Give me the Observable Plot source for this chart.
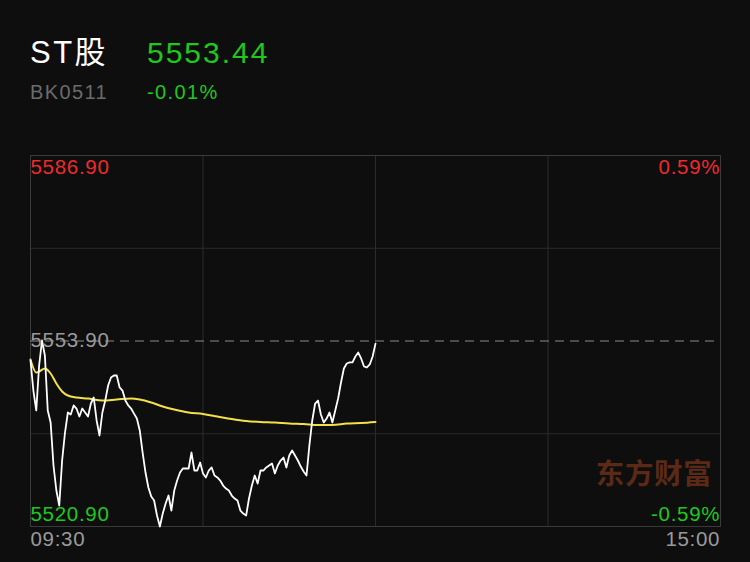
<!DOCTYPE html>
<html>
<head>
<meta charset="utf-8">
<script src="https://cdn.jsdelivr.net/npm/d3@7"></script>
<script src="https://cdn.jsdelivr.net/npm/@observablehq/plot@0.6"></script>
<style>
  html, body { margin: 0; padding: 0; background: #0e0e0e; width: 750px; height: 562px; overflow: hidden; }
  #header { display: block; }
  #chart svg { display: block; }
</style>
</head>
<body>
<svg id="header" width="750" height="130" xmlns="http://www.w3.org/2000/svg" style="font-family:'Liberation Sans','Noto Sans CJK SC',sans-serif">
  <text id="t-name" x="30" y="63" font-size="31" fill="#ffffff" letter-spacing="2.5"></text>
  <text id="t-price" x="147" y="63" font-size="30" fill="#1ec81e" letter-spacing="2"></text>
  <text id="t-code" x="30" y="99" font-size="20" fill="#6b6b6b" letter-spacing="1.4"></text>
  <text id="t-chg" x="147" y="99" font-size="20" fill="#1ec81e" letter-spacing="1.4"></text>
</svg>
<div id="chart"></div>
<script>
// ---- header values ----
const stockName = "ST股";
const lastPrice = "5553.44";
const boardCode = "BK0511";
const changePct = "-0.01%";

// ---- axis / tick labels ----
const priceLabels = [5586.90, 5553.90, 5520.90];
const pctLabels = ["0.59%", "-0.59%"];
const timeLabels = ["09:30", "15:00"];
const timeLabelMinutes = [0, 240];
const gridMinutes = [60, 120, 180];
const gridPrices = [5570.40, 5537.40];
const prevClose = 5553.90;
const watermark = "东方财富";

// ---- price series (minute index 0..120 from 09:30) ----
const prices = [
  5550.43, 5545.09, 5541.54, 5549.54, 5553.99, 5551.32, 5541.54, 5539.40, 5531.75, 5527.30,
  5524.63, 5532.64, 5537.62, 5541.18, 5540.82, 5542.43, 5541.89, 5540.47, 5541.89, 5541.18,
  5540.47, 5542.78, 5543.85, 5539.76, 5537.09, 5541.18, 5543.31, 5545.98, 5547.41, 5547.76,
  5547.76, 5545.63, 5545.09, 5543.31, 5542.43, 5541.89, 5540.99, 5540.11, 5537.98, 5534.06,
  5530.50, 5527.84, 5526.24, 5525.52, 5522.85, 5520.90, 5523.21, 5524.99, 5526.41, 5523.74,
  5527.30, 5529.08, 5530.50, 5531.22, 5531.22, 5531.22, 5534.06, 5530.86, 5530.86, 5532.28,
  5530.33, 5529.62, 5530.86, 5531.40, 5529.97, 5529.62, 5529.08, 5528.19, 5527.66, 5527.30,
  5526.41, 5525.88, 5525.52, 5523.74, 5523.21, 5522.85, 5525.88, 5528.19, 5529.97, 5528.54,
  5530.86, 5530.86, 5531.40, 5531.75, 5532.11, 5530.33, 5531.75, 5532.64, 5533.17, 5531.40,
  5533.53, 5534.42, 5533.53, 5532.64, 5531.57, 5530.68, 5529.97, 5535.31, 5539.76, 5542.78,
  5543.31, 5540.82, 5539.40, 5540.11, 5541.18, 5539.40, 5541.54, 5543.67, 5546.52, 5549.01,
  5549.90, 5550.08, 5550.08, 5551.14, 5551.85, 5550.79, 5549.36, 5549.19, 5549.72, 5551.14,
  5553.44
];

// ---- average price series ----
const avgMinutes = [0, 2, 3, 5, 7, 9, 11, 13, 16, 20, 25, 30, 35, 38, 42, 46, 50, 55, 60, 65, 70, 75, 80, 85, 90, 95, 100, 105, 110, 115, 120];
const avgValues = [5550.61, 5548.30, 5548.47, 5549.01, 5548.12, 5546.34, 5544.92, 5544.20, 5543.85, 5543.67,
  5543.31, 5543.49, 5543.67, 5543.49, 5542.96, 5542.25, 5541.71, 5541.18, 5540.91, 5540.47,
  5540.02, 5539.67, 5539.49, 5539.40, 5539.22, 5539.13, 5538.95, 5538.95, 5539.22, 5539.31, 5539.49];

document.getElementById("t-name").textContent = stockName;
document.getElementById("t-price").textContent = lastPrice;
document.getElementById("t-code").textContent = boardCode;
document.getElementById("t-chg").textContent = changePct;

const priceData = prices.map((v, i) => ({m: i, v}));
const avgData = avgMinutes.map((m, i) => ({m, v: avgValues[i]}));

const RED = "#ee2a2a";
const GREEN = "#1ec81e";
const GRAY = "#9a9a9a";
const GRID = "#2b2b2b";
const FONT = "'Liberation Sans','Noto Sans CJK SC',sans-serif";
const FS = 20.5;
const LS = 0.7;

const chart = Plot.plot({
  width: 750,
  height: 432,
  marginLeft: 30,
  marginRight: 30,
  marginTop: 25,
  marginBottom: 36,
  x: {domain: [0, 240], axis: null},
  y: {domain: [5520.90, 5586.90], axis: null},
  style: {background: "#0e0e0e", fontFamily: FONT, overflow: "visible", letterSpacing: LS + "px"},
  marks: [
    Plot.ruleX(gridMinutes, {stroke: GRID, strokeWidth: 1}),
    Plot.ruleY(gridPrices, {stroke: GRID, strokeWidth: 1}),
    Plot.frame({stroke: "#3a3a3a", strokeWidth: 1}),
    Plot.ruleY([prevClose], {stroke: "#8a8a8a", strokeWidth: 1, strokeDasharray: "9,6"}),
    Plot.text([watermark], {frameAnchor: "bottom-right", dx: -8, dy: -43, fontSize: 28.5, fontWeight: "bold", fill: "#5a2a17", textAnchor: "end", fontFamily: "'Noto Sans CJK SC',sans-serif"}),
    Plot.line(avgData, {x: "m", y: "v", stroke: "#f3e04a", strokeWidth: 2, curve: "monotone-x"}),
    Plot.line(priceData, {x: "m", y: "v", stroke: "#ffffff", strokeWidth: 1.8}),
    // price labels
    Plot.text([priceLabels[0]], {y: d => d, text: d => d.toFixed(2), frameAnchor: "left", textAnchor: "start", dx: 0, dy: 12, fontSize: FS, fill: RED}),
    Plot.text([priceLabels[1]], {y: d => d, text: d => d.toFixed(2), frameAnchor: "left", textAnchor: "start", dx: 0, dy: -1, fontSize: FS, fill: GRAY}),
    Plot.text([priceLabels[2]], {y: d => d, text: d => d.toFixed(2), frameAnchor: "left", textAnchor: "start", dx: 0, dy: -12, fontSize: FS, fill: GREEN}),
    // pct labels
    Plot.text([pctLabels[0]], {y: () => priceLabels[0], text: d => d, frameAnchor: "right", textAnchor: "end", dx: LS - 1, dy: 12, fontSize: FS, fill: RED}),
    Plot.text([pctLabels[1]], {y: () => priceLabels[2], text: d => d, frameAnchor: "right", textAnchor: "end", dx: LS - 1, dy: -12, fontSize: FS, fill: GREEN}),
    // time labels
    Plot.text([0], {x: i => timeLabelMinutes[i], text: i => timeLabels[i], frameAnchor: "bottom", textAnchor: "start", dy: 19, fontSize: FS, fill: GRAY}),
    Plot.text([1], {x: i => timeLabelMinutes[i], text: i => timeLabels[i], frameAnchor: "bottom", textAnchor: "end", dx: LS - 1, dy: 19, fontSize: FS, fill: GRAY})
  ]
});
document.getElementById("chart").appendChild(chart);
</script>
</body>
</html>
